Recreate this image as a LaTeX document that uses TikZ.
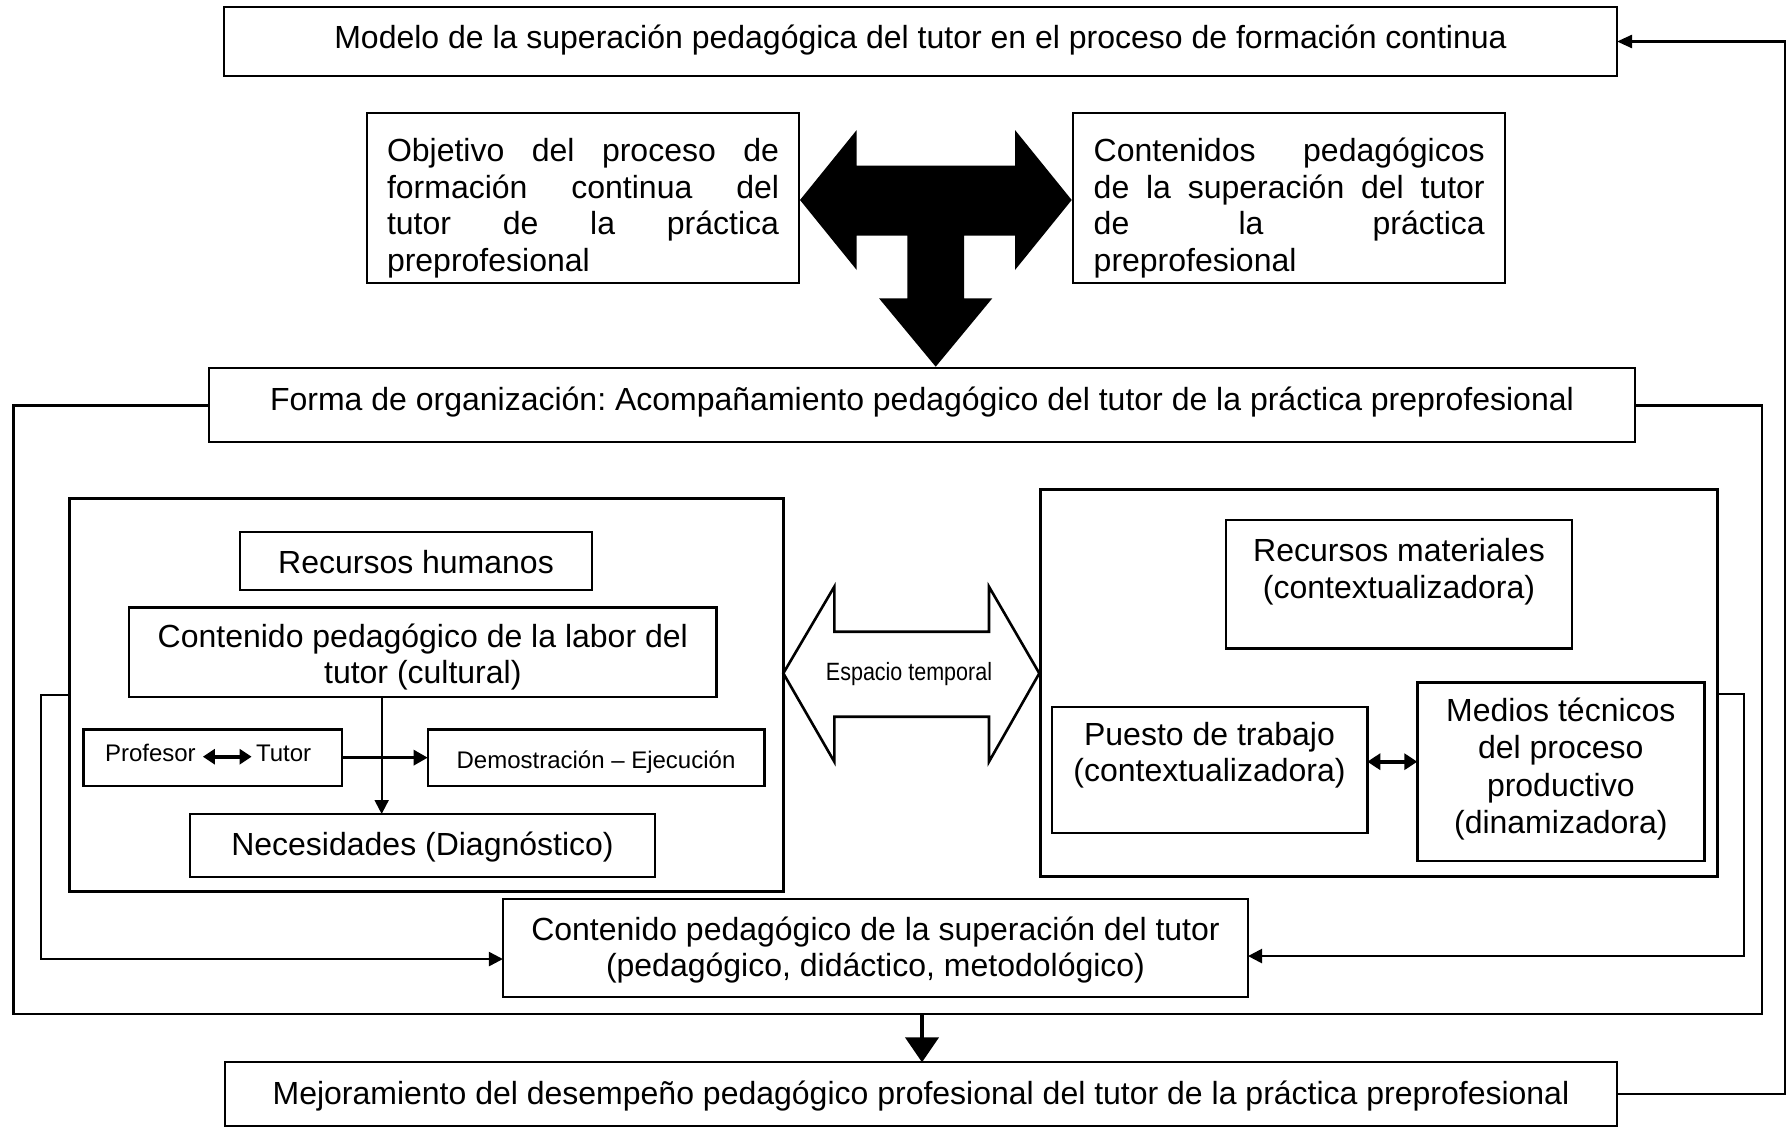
\documentclass[tikz,border=0pt]{standalone}
\usepackage{fontspec}
\usepackage{graphicx}
\setmainfont{Liberation Sans}
\usetikzlibrary{fit,arrows.meta,calc}
\frenchspacing
\tikzset{
  box/.style={draw, line width=1pt, inner sep=0pt, outer sep=0pt},
  framebox/.style={draw, line width=1.5pt, inner sep=0pt, outer sep=0pt},
  txt/.style={inner sep=0pt, outer sep=0pt, font=\fontsize{16}{18.2}\selectfont},
  small/.style={inner sep=0pt, outer sep=0pt, font=\fontsize{12}{14}\selectfont},
  conn/.style={line width=1pt},
  tip/.style={arrows={-Triangle[length=7pt,width=7pt]}},
  dtip/.style={arrows={Triangle[length=6pt,width=7.5pt]-Triangle[length=6pt,width=7.5pt]}}
}
\begin{document}
\begin{tikzpicture}[x=0.5pt,y=-0.5pt]
\useasboundingbox (0,0) rectangle (1792,1129);

% ---------- boxes ----------
\node[box, fit={(224,7)(1617,76)}] (top) {};
\node[box, fit={(367,112.7)(799,283)}] (obj) {};
\node[box, fit={(1072.7,112.7)(1505,283.3)}] (cont) {};
\node[box, fit={(209,368.3)(1635,442.3)}] (forma) {};
\node[framebox, fit={(69,498.3)(783.3,891.7)}] (lframe) {};
\node[box, line width=1.2pt, fit={(240,531.7)(592,590)}] (rh) {};
\node[box, line width=1.2pt, fit={(129,607.3)(716.6,696.7)}] (labor) {};
\node[box, line width=1.2pt, fit={(83.3,729.3)(341.7,786)}] (prof) {};
\node[box, line width=1.2pt, fit={(427.7,729.3)(764.6,786)}] (dem) {};
\node[box, line width=1.2pt, fit={(190,814)(654.9,876.7)}] (nec) {};
\node[framebox, fit={(1040,489.3)(1717,876.7)}] (rframe) {};
\node[box, line width=1.2pt, fit={(1226,520)(1572,648.3)}] (rm) {};
\node[box, line width=1.2pt, fit={(1051.7,706.7)(1367.3,832.7)}] (puesto) {};
\node[box, line width=1.2pt, fit={(1417.3,682.3)(1704.3,860.7)}] (medios) {};
\node[box, fit={(502.9,899.4)(1248,996.7)}] (sup) {};
\node[box, fit={(225,1062.3)(1617,1126)}] (mejor) {};

% ---------- texts ----------
\node[txt, anchor=base] (ttop) at (920.5,48.3) {Modelo de la superación pedagógica del tutor en el proceso de formación continua};
\node[txt, anchor=base west] (tobj) at (387,162) {\parbox[t]{196pt}{\makebox[196pt][s]{Objetivo del proceso de}\\\makebox[196pt][s]{formación continua del}\\\makebox[196pt][s]{tutor de la práctica}\\preprofesional}};
\node[txt, anchor=base west] (tcont) at (1093.7,162) {\parbox[t]{195.5pt}{\makebox[195.5pt][s]{Contenidos pedagógicos}\\\makebox[195.5pt][s]{de la superación del tutor}\\\makebox[195.5pt][s]{de la práctica}\\preprofesional}};
\node[txt, anchor=base] (tforma) at (922,410) {Forma de organización: Acompañamiento pedagógico del tutor de la práctica preprofesional};
\node[txt, anchor=base] (trh) at (416,573.3) {Recursos humanos};
\node[txt, anchor=base] (tlabor) at (422.8,647.3) {\parbox[t]{300pt}{\centering Contenido pedagógico de la labor del\\tutor (cultural)}};
\node[small, anchor=base west] (tprof) at (105,761.7) {Profesor};
\node[small, anchor=base west] (ttut) at (256,761.7) {Tutor};
\node[small, anchor=base] (tdem) at (596,768.3) {Demostración – Ejecución};
\node[txt, anchor=base] (tnec) at (422.5,855) {Necesidades (Diagnóstico)};
\node[txt, anchor=base] (trm) at (1399,561.7) {\parbox[t]{170pt}{\centering Recursos materiales\\(contextualizadora)}};
\node[txt, anchor=base] (tpuesto) at (1209.5,745) {\parbox[t]{155pt}{\centering Puesto de trabajo\\(contextualizadora)}};
\node[txt, anchor=base] (tmedios) at (1560.8,721.7) {\parbox[t]{140pt}{\centering\baselineskip=18.6pt Medios técnicos\\del proceso\\productivo\\(dinamizadora)}};
\node[txt, anchor=base] (tsup) at (875.5,940) {\parbox[t]{400pt}{\centering Contenido pedagógico de la superación del tutor\\(pedagógico, didáctico, metodológico)}};
\node[txt, anchor=base] (tmejor) at (921,1104) {Mejoramiento del desempeño pedagógico profesional del tutor de la práctica preprofesional};

% ---------- black T arrow ----------
\fill (800,200) -- (856.7,130) -- (856.7,165.7) -- (1015,165.7) -- (1015,130) -- (1071.7,200)
  -- (1015,270) -- (1015,235.7) -- (964,235.7) -- (964,298.3) -- (992.3,298.3) -- (935.7,366.7)
  -- (879,298.3) -- (907.3,298.3) -- (907.3,235.7) -- (856.7,235.7) -- (856.7,270) -- cycle;

% ---------- hollow double arrow ----------
\draw[line width=1.3pt, line join=miter, fill=white] (783.3,673.3) -- (834.3,586.7) -- (834.3,631.7)
  -- (989,631.7) -- (989,586.7) -- (1039.3,673.3) -- (989,761.7) -- (989,716.7)
  -- (834.3,716.7) -- (834.3,761.7) -- cycle;
\node[inner sep=0pt, anchor=base, font=\fontsize{12.5}{14}\selectfont] (tesp) at (909,680.7) {\scalebox{0.86}[1]{Espacio temporal}};

% ---------- outer frame ----------
\coordinate (fbl) at (13.3,1013.7);
\coordinate (fbr) at (1762,1013.7);
\coordinate (fbm) at (922,1013.7);
\draw[line width=1.2pt] (forma.west) -| (fbl) -- (fbr) |- (forma.east);

% ---------- connectors ----------
\coordinate (lab) at ($(labor.south west)!0.43!(labor.south east)$);
\draw[conn, tip] (lab) -- (lab |- nec.north);
\draw[line width=1.5pt, arrows={-Triangle[length=7pt,width=7.5pt]}] (prof.east) -- (dem.west);
\draw[line width=2pt, dtip] ([xshift=3.6pt,yshift=2.5pt]tprof.base east) -- ([xshift=-2.2pt,yshift=2.5pt]ttut.base west);
\draw[line width=2pt, arrows={Triangle[length=6.5pt,width=8pt]-Triangle[length=6.5pt,width=8pt]}] ([yshift=4pt]puesto.east) -- ([yshift=4pt]puesto.east -| medios.west);
\draw[line width=1.2pt, tip] (lframe.west) -- ++(-14pt,0) |- ([yshift=-5.5pt]sup.west);
\draw[line width=1.2pt, tip] ([yshift=-5.6pt]rframe.east) -- ++(13.5pt,0) |- ([yshift=-4pt]sup.east);
\draw[line width=2.2pt, arrows={-Triangle[length=12.5pt,width=16.5pt]}] (fbm) -- (fbm |- mejor.north);
\draw[line width=1.2pt, arrows={-Triangle[length=7.5pt,width=6.5pt]}] (mejor.east) -- ++(84pt,0) |- (top.east);
\end{tikzpicture}
\end{document}
